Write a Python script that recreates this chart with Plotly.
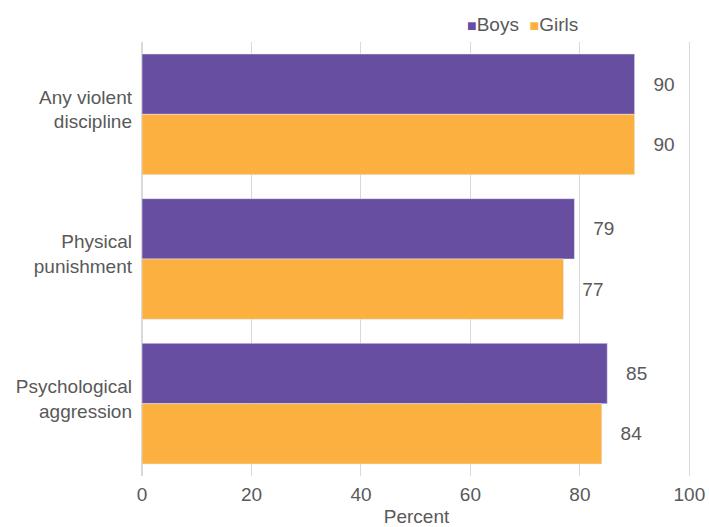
import plotly.graph_objects as go

categories = ["Any violent<br>discipline", "Physical<br>punishment", "Psychological<br>aggression"]
series_names = ["Boys", "Girls"]
series_colors = ["#684ea0", "#fbb040"]
boys = [90, 79, 85]
girls = [90, 77, 84]
x_ticks = [0, 20, 40, 60, 80, 100]

FONT = "Liberation Sans"
GREY = "#595959"

fig = go.Figure()
for name, vals, col in zip(series_names, [boys, girls], series_colors):
    fig.add_trace(go.Bar(
        name=name, y=categories, x=vals, orientation="h",
        marker=dict(color=col), showlegend=False,
        text=vals, texttemplate="\u00a0\u00a0\u00a0%{x}", textposition="outside",
        textfont=dict(family=FONT, size=19, color=GREY), cliponaxis=False,
    ))

# compact legend (square marker directly before the name), as in the reference
legend_text = "\u00a0\u00a0".join(
    f"<span style='color:{c};font-size:16px'>■</span>{n}"
    for n, c in zip(series_names, series_colors)
)
fig.add_annotation(
    text=legend_text, xref="paper", yref="paper",
    x=0.588, xanchor="left", y=1.041, yanchor="middle",
    showarrow=False, font=dict(family=FONT, size=19, color=GREY),
)

fig.update_layout(
    width=709, height=527,
    margin=dict(l=142, r=18, t=42, b=51),
    paper_bgcolor="white", plot_bgcolor="white",
    barmode="group", bargap=0.166, bargroupgap=0,
    font=dict(family=FONT, size=19, color=GREY),
    xaxis=dict(range=[0, 100.3], tickvals=x_ticks,
               showgrid=True, gridcolor="#d9d9d9",
               gridwidth=1, zeroline=True, zerolinecolor="#d9d9d9", showline=False,
               ticks="", tickfont=dict(size=19, color=GREY), ticklabelstandoff=5,
               ticklabeloverflow="allow",
               title=dict(text="Percent", font=dict(size=19, color=GREY), standoff=11),
               automargin=False),
    yaxis=dict(autorange="reversed", showgrid=False, ticks="", showline=False,
               tickfont=dict(size=19, color=GREY), ticklabelstandoff=9,
               ticklabelshift=5, automargin=False),
)

fig.write_html(
    "out.html",
    config={"displayModeBar": False},
    post_script="document.body.style.margin='0px';document.body.style.overflow='hidden';",
)
